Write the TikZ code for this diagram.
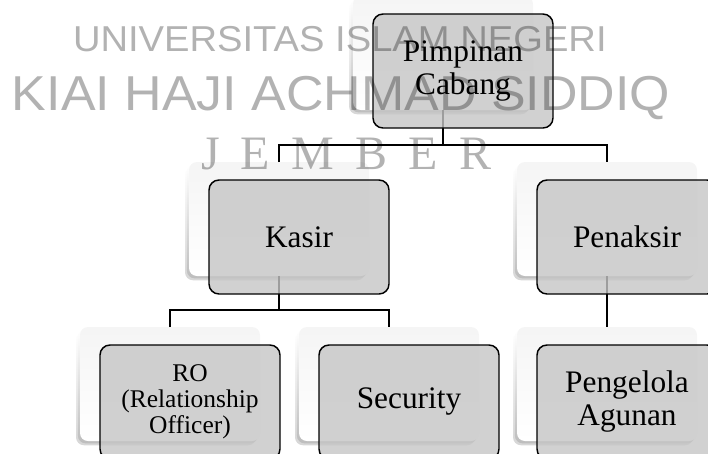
\documentclass[tikz,border=0pt]{standalone}
\usepackage{fontspec}
\setmainfont{Liberation Serif}
\newfontfamily\wmsans{Liberation Sans}
\newfontfamily\wmserif{Liberation Serif}
\usetikzlibrary{shadows}
\definecolor{boxgray}{RGB}{197,197,197}
\begin{document}
\begin{tikzpicture}[x=0.75pt,y=-0.75pt,
  backbox/.style={minimum width=135pt, minimum height=85.5pt, inner sep=0pt, outer sep=0pt,
    rounded corners=6pt, top color=black!4, bottom color=white,
    general shadow={shadow xshift=-3pt, shadow yshift=-3.2pt, top color=white, bottom color=black!16},
    general shadow={shadow xshift=-1.6pt, shadow yshift=-1.8pt, top color=white, bottom color=black!26}},
  frontbox/.style={minimum width=135pt, minimum height=85.5pt, inner sep=2pt, outer sep=0pt,
    rounded corners=7.5pt, draw=black, line width=1.1pt, fill=boxgray, fill opacity=0.8,
    text opacity=1, align=center, font=\fontsize{23.5}{24.75}\selectfont},
  smalltext/.style={font=\fontsize{19.1}{19.5}\selectfont},
  link/.style={line width=1pt, draw=black},
  wmark/.style={anchor=base west, inner sep=0pt, outer sep=0pt, text=black, text opacity=0.3}
]
\useasboundingbox (0,0) rectangle (708,454);
\clip (0,0) rectangle (708,454);

% back boxes
\node[backbox] (pb)   at (443,53)  {};
\node[backbox] (kb)   at (279,219) {};
\node[backbox] (pnb)  at (607,219) {};
\node[backbox] (rob)  at (170,384) {};
\node[backbox] (secb) at (389,384) {};
\node[backbox] (pgb)  at (607,384) {};

% connectors
\path (pb.south) ++(0,35) coordinate (j1);
\path (kb.south) ++(0,34) coordinate (j2);
\draw[link] (pb.south) -- (j1);
\draw[link] (kb.north) |- (j1) -| (pnb.north);
\draw[link] (kb.south) -- (j2);
\draw[link] (rob.north) |- (j2) -| (secb.north);
\draw[link] (pnb.south) -- (pgb.north);

% front boxes
\node[frontbox] (p)   at (463,71)  {Pimpinan\\Cabang};
\node[frontbox] (k)   at (299,237) {Kasir};
\node[frontbox] (pn)  at (627,237) {Penaksir};
\node[frontbox,smalltext] (ro) at (190,402) {RO\\(Relationship\\Officer)};
\node[frontbox] (sec) at (409,402) {Security};
\node[frontbox] (pg)  at (627,402) {Pengelola\\Agunan};

% watermark
\node[wmark] (wm1) at (73,51) {\wmsans\fontsize{27}{27}\selectfont\scalebox{1.06}[1]{UNIVERSITAS ISLAM NEGERI}};
\node[wmark] (wm2) at (12,110) {\wmsans\fontsize{36.75}{36.75}\selectfont\scalebox{1.06}[1]{KIAI HAJI ACHMAD SIDDIQ}};
\node[wmark] (wm3) at (201,169) {\wmserif\fontsize{36}{36}\selectfont J\hspace{16pt}E\hspace{16pt}M\hspace{16pt}B\hspace{16pt}E\hspace{16pt}R};
\end{tikzpicture}
\end{document}
